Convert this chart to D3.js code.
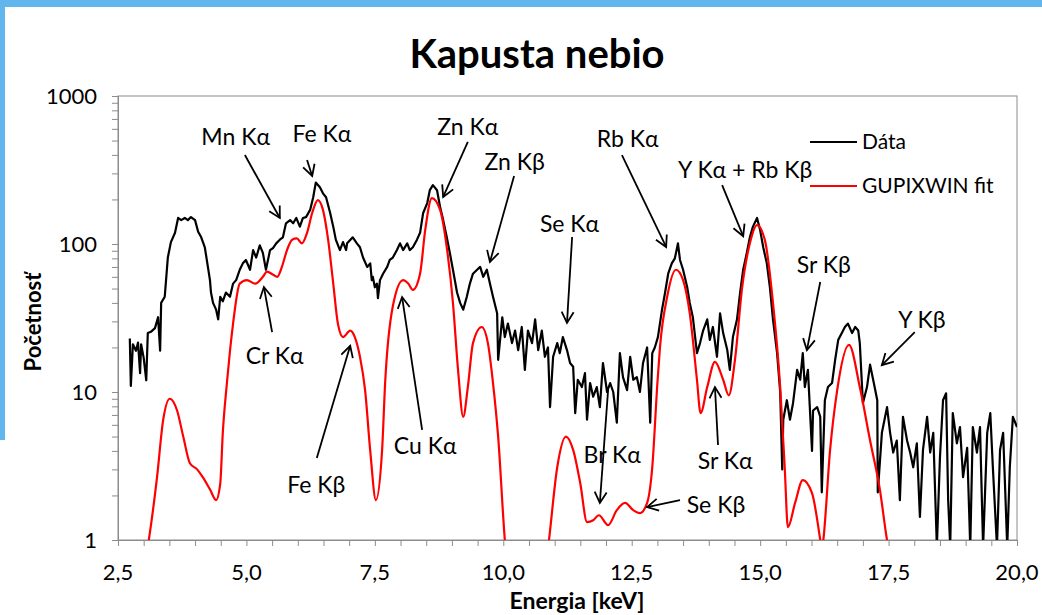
<!DOCTYPE html>
<html>
<head>
<meta charset="utf-8">
<script src="https://cdn.jsdelivr.net/npm/d3@7"></script>
<style>
    body { margin: 0; background: #fff; }
    svg { display: block; font-family: Lato, 'Open Sans', 'DejaVu Sans', sans-serif; }
</style>
</head>
<body>
<svg id="chart" width="1042" height="615"></svg>
<script>
// measured spectrum [keV, counts]
const measured = [
    [2.73,23],[2.75,11],[2.79,21],[2.85,19],[2.89,21.6],[2.93,13.4],[2.95,21],[3.00,17],[3.05,12],[3.08,25],
    [3.14,25.5],[3.22,27],[3.28,32],[3.32,19],[3.34,40],[3.41,44],[3.47,81],[3.53,103],[3.61,119],[3.67,150],
    [3.73,145],[3.80,150],[3.86,145],[3.92,152],[4.00,145],[4.06,121],[4.12,111],[4.19,95],[4.25,70],[4.29,57],
    [4.31,47],[4.35,40],[4.41,36],[4.45,31],[4.49,44],[4.54,41],[4.60,47],[4.68,44],[4.74,54],[4.80,57],
    [4.87,67],[4.93,74],[4.99,78],[5.07,67],[5.13,91],[5.19,81],[5.26,98],[5.32,87],[5.38,67],[5.46,91],
    [5.52,94],[5.58,101],[5.65,107],[5.71,111],[5.77,138],[5.85,145],[5.91,138],[5.97,150],[6.04,131],[6.10,150],
    [6.16,152],[6.24,170],[6.30,207],[6.35,260],[6.43,242],[6.49,220],[6.55,207],[6.63,162],[6.69,131],[6.74,107],
    [6.82,91],[6.88,103],[6.94,91],[6.96,101],[7.07,111],[7.15,101],[7.21,95],[7.27,81],[7.35,70],[7.41,74],
    [7.44,57],[7.46,60],[7.50,51],[7.54,54],[7.56,43],[7.60,57],[7.66,63],[7.74,70],[7.79,78],[7.85,81],
    [7.93,91],[7.99,101],[8.05,91],[8.13,101],[8.18,91],[8.24,95],[8.32,107],[8.38,119],[8.44,162],[8.52,189],
    [8.57,231],[8.63,250],[8.71,231],[8.77,178],[8.83,145],[8.90,111],[8.96,87],[9.02,67],[9.10,47],[9.16,40],
    [9.22,36],[9.29,44],[9.35,54],[9.41,63],[9.49,67],[9.55,70],[9.61,60],[9.68,67],[9.74,54],[9.80,44],
    [9.88,34],[9.90,16.5],[9.98,32],[10.03,23.5],[10.09,29],[10.17,21.4],[10.23,26],[10.29,19.2],[10.36,27.5],[10.42,14.1],
    [10.48,26],[10.56,21.4],[10.62,31],[10.68,19.2],[10.75,26],[10.81,17.3],[10.87,20],[10.91,7.9],[10.97,17.3],[11.05,21.4],
    [11.10,18.3],[11.16,23.5],[11.24,19.2],[11.30,15.7],[11.36,14.8],[11.40,7.2],[11.45,12.1],[11.53,10.8],[11.59,13.4],[11.63,6.5],
    [11.69,11.5],[11.75,9.3],[11.82,10.8],[11.88,7.9],[11.94,15.7],[12.02,10],[12.08,11.5],[12.14,10],[12.21,6.2],[12.27,18.3],
    [12.33,12.6],[12.41,10.3],[12.47,17.3],[12.53,12.1],[12.60,12.6],[12.66,10],[12.72,15.7],[12.80,20],[12.86,6.2],[12.90,18.3],
    [12.95,20],[13.01,23.5],[13.09,36],[13.15,47],[13.21,63],[13.28,74],[13.34,80],[13.40,101],[13.44,78],[13.50,67],
    [13.58,51],[13.63,40],[13.69,32],[13.77,18.3],[13.83,21.4],[13.89,26],[13.97,31],[14.02,22.5],[14.08,27.5],[14.16,17.3],
    [14.22,34],[14.28,25],[14.36,19.2],[14.41,14.1],[14.47,23.5],[14.55,31],[14.61,47],[14.67,67],[14.74,87],[14.80,111],
    [14.86,131],[14.94,150],[15.00,124],[15.06,95],[15.13,74],[15.19,51],[15.25,31],[15.33,18.3],[15.39,10],[15.43,3],
    [15.45,6.5],[15.52,8.8],[15.58,6.5],[15.64,8.4],[15.72,14.1],[15.78,12.1],[15.83,18.3],[15.87,10.8],[15.93,14.1],[16.01,4],
    [16.03,7.5],[16.11,7.9],[16.17,6.8],[16.20,2.1],[16.26,8.8],[16.32,10.8],[16.40,11.5],[16.46,16.5],[16.52,22.5],[16.59,25],
    [16.65,27.5],[16.71,29],[16.79,25],[16.85,27.5],[16.91,26],[16.94,21.4],[17.00,8.4],[17.08,10.8],[17.14,15.3],[17.20,12.1],
    [17.28,8.8],[17.29,2.1],[17.37,5.3],[17.47,7.9],[17.53,5.3],[17.59,3.9],[17.66,4.7],[17.72,1.86],[17.78,6.8],[17.86,4.7],
    [17.92,3.9],[17.98,3.1],[18.05,4.5],[18.11,1.43],[18.17,4.06],[18.25,6.8],[18.31,3.9],[18.37,5.3],[18.44,0.9],[18.50,3.6],
    [18.56,8.8],[18.62,9.8],[18.66,1.86],[18.70,0.9],[18.75,7.2],[18.83,4.5],[18.89,5.8],[18.95,2.66],[19.03,4.2],[19.09,0.9],
    [19.14,5.8],[19.22,3.9],[19.28,5.8],[19.34,0.9],[19.42,5.3],[19.48,7.2],[19.53,3.1],[19.61,0.9],[19.67,4.06],[19.73,5.3],
    [19.81,0.9],[19.86,3.1],[19.92,6.8],[20.00,5.8]
];

// GUPIXWIN fit [keV, counts]
const fitted = [
    [2.95,0.5],[3.10,1],[3.26,2.66],[3.38,6.5],[3.51,9],[3.65,7.5],[3.77,5],[3.90,3.3],[4.04,3],[4.15,2.66],
    [4.29,2.2],[4.41,1.86],[4.49,2.4],[4.54,5.3],[4.62,11.5],[4.68,19],[4.74,29],[4.87,54],[5.01,57],[5.17,54],
    [5.32,60],[5.40,65],[5.52,62],[5.60,60],[5.69,70],[5.79,91],[5.89,107],[5.98,109],[6.08,101],[6.18,119],
    [6.28,162],[6.39,198],[6.49,170],[6.59,107],[6.69,54],[6.78,29],[6.88,23.5],[7.02,26],[7.11,23.5],[7.21,17.3],
    [7.31,10.3],[7.41,4],[7.52,1.86],[7.64,4],[7.70,11.5],[7.85,38],[8.05,57],[8.15,54],[8.24,49],[8.38,63],
    [8.48,124],[8.61,204],[8.77,170],[8.90,95],[9.02,40],[9.12,14],[9.22,6.8],[9.31,10.8],[9.41,21.4],[9.58,27.5],
    [9.70,21.4],[9.80,11.5],[9.90,5],[10.03,1],[10.15,0.4],[10.75,0.4],[10.89,1],[11.05,3.1],[11.22,5],[11.36,4.06],
    [11.50,2.4],[11.63,1.32],[11.75,1.36],[11.86,1.47],[12.04,1.26],[12.21,1.59],[12.37,1.78],[12.53,1.59],[12.66,1.52],[12.80,1.78],
    [12.90,3.1],[13.00,11.5],[13.05,20],[13.19,44],[13.36,67],[13.50,57],[13.63,34],[13.77,12.1],[13.84,7.2],[13.97,10.8],
    [14.12,16],[14.28,12.1],[14.39,9.5],[14.51,16.5],[14.65,51],[14.80,101],[14.94,134],[15.09,107],[15.25,40],[15.39,10.8],
    [15.48,3],[15.54,1.22],[15.68,1.78],[15.83,2.54],[16.01,2.07],[16.17,1],[16.20,0.85],[16.23,1],[16.36,4],[16.50,10.3],
    [16.73,20.8],[16.94,10.8],[17.14,4.7],[17.33,2.2],[17.47,1],[17.60,0.6]
];

const xTicks = [2.5, 5, 7.5, 10, 12.5, 15, 17.5, 20];
const yTicks = [1, 10, 100, 1000];
const seriesNames = ['Dáta', 'GUPIXWIN fit'];

// peak labels: text position and arrow tail -> head, all in [keV, counts]
const peakLabels = ['Mn Kα', 'Fe Kα', 'Cr Kα', 'Fe Kβ', 'Cu Kα', 'Zn Kα', 'Zn Kβ', 'Se Kα',
    'Rb Kα', 'Y Kα + Rb Kβ', 'Sr Kβ', 'Y Kβ', 'Sr Kα', 'Br Kα', 'Se Kβ'];
const labelAt = [[4.79,467],[6.47,489],[5.55,15.5],[6.36,2.08],[8.48,3.81],[9.31,545],[10.22,316],[11.29,120.5],
    [12.42,452],[14.71,279],[16.24,63.7],[18.15,27.1],[14.32,3.02],[12.12,3.31],[14.14,1.52]];
const arrowFrom = [[4.97,399],[6.18,370],[5.50,25.4],[6.37,3.58],[8.42,5.54],[9.31,489],[10.21,288],[11.34,111.5],
    [12.31,399],[14.26,250],[16.17,55.4],[18.01,25.4],[14.18,4.38],[12.04,10.3],[13.44,1.86]];
const arrowTo = [[5.65,150],[6.28,288],[5.34,51.2],[7.02,20.5],[8.03,43.8],[8.83,208],[9.74,75.5],[11.24,29.3],
    [13.17,95.5],[14.67,113],[15.91,19.2],[17.37,15.2],[14.12,10.8],[11.88,1.78],[12.80,1.67]];

const margin = { left: 118, top: 96, right: 25, bottom: 75 };
const width = 1042 - margin.left - margin.right;
const height = 615 - margin.top - margin.bottom;

const svg = d3.select('#chart');

// blue slide frame
svg.append('rect').attr('x', 0).attr('y', 0).attr('width', 1042).attr('height', 7).attr('fill', '#62b6ee');
svg.append('rect').attr('x', 0).attr('y', 0).attr('width', 5).attr('height', 440).attr('fill', '#62b6ee');

svg.append('text')
    .attr('x', 537).attr('y', 68)
    .attr('text-anchor', 'middle')
    .style('font-size', '40px').style('font-weight', 'bold')
    .text('Kapusta nebio');

const defs = svg.append('defs');
defs.append('clipPath').attr('id', 'plotClip')
    .append('rect').attr('width', width).attr('height', height);
defs.append('marker')
    .attr('id', 'arrowHead')
    .attr('viewBox', '0 0 14 14')
    .attr('refX', 12).attr('refY', 7)
    .attr('markerWidth', 14).attr('markerHeight', 14)
    .attr('markerUnits', 'userSpaceOnUse')
    .attr('orient', 'auto')
    .append('path')
    .attr('d', 'M1,1 L12,7 L1,13')
    .attr('fill', 'none').attr('stroke', '#000').attr('stroke-width', 1.8);

const g = svg.append('g').attr('transform', 'translate(' + margin.left + ',' + margin.top + ')');

const x = d3.scaleLinear().domain([2.5, 20]).range([0, width]);
const y = d3.scaleLog().domain([1, 1000]).range([height, 0]);

// frame
g.append('rect').attr('width', width).attr('height', height)
    .attr('fill', 'none').attr('stroke', '#8c8c8c').attr('stroke-width', 1);

// x axis: ticks every 0.5, labels every 2.5
const xAxis = g.append('g').attr('transform', 'translate(0,' + height + ')')
    .call(d3.axisBottom(x).tickValues(d3.range(2.5, 20.01, 0.5)).tickSize(6).tickFormat(''));
xAxis.selectAll('line, path').attr('stroke', '#8c8c8c');
g.append('g').selectAll('text').data(xTicks).enter().append('text')
    .attr('x', d => x(d)).attr('y', height + 40)
    .attr('text-anchor', 'middle')
    .style('font-size', '22px')
    .text(d => d.toFixed(1).replace('.', ','));

// y axis: log ticks 1..9 per decade
const yMinor = [];
[1, 10, 100].forEach(dec => d3.range(1, 10).forEach(k => yMinor.push(dec * k)));
yMinor.push(1000);
const yAxis = g.append('g')
    .call(d3.axisLeft(y).tickValues(yMinor).tickSize(6).tickFormat(''));
yAxis.selectAll('line, path').attr('stroke', '#8c8c8c');
g.append('g').selectAll('text').data(yTicks).enter().append('text')
    .attr('x', -21).attr('y', d => y(d)).attr('dy', '0.36em')
    .attr('text-anchor', 'end')
    .style('font-size', '22px')
    .text(d => d);

svg.append('text')
    .attr('transform', 'translate(41,' + (margin.top + height * 0.5 + 4) + ') rotate(-90)')
    .attr('text-anchor', 'middle')
    .style('font-size', '22px').style('font-weight', 'bold')
    .text('Početnosť');
svg.append('text')
    .attr('x', 577).attr('y', 609)
    .attr('text-anchor', 'middle')
    .style('font-size', '23px').style('font-weight', 'bold')
    .text('Energia [keV]');

// series
const line = d3.line().x(d => x(d[0])).y(d => y(d[1]));
const plot = g.append('g').attr('clip-path', 'url(#plotClip)');
plot.append('path').datum(measured)
    .attr('d', line)
    .attr('fill', 'none').attr('stroke', '#000').attr('stroke-width', 2.2).attr('stroke-linejoin', 'round');
plot.append('path').datum(fitted)
    .attr('d', line.curve(d3.curveMonotoneX))
    .attr('fill', 'none').attr('stroke', '#ff0000').attr('stroke-width', 2.2);

// annotations
const notes = g.append('g');
peakLabels.forEach(function (label, i) {
    notes.append('line')
        .attr('x1', x(arrowFrom[i][0])).attr('y1', y(arrowFrom[i][1]))
        .attr('x2', x(arrowTo[i][0])).attr('y2', y(arrowTo[i][1]))
        .attr('stroke', '#000').attr('stroke-width', 1.8)
        .attr('marker-end', 'url(#arrowHead)');
    notes.append('text')
        .attr('x', x(labelAt[i][0])).attr('y', y(labelAt[i][1]))
        .attr('text-anchor', 'middle')
        .style('font-size', '23px')
        .text(label);
});

// legend
const legend = svg.append('g');
seriesNames.forEach(function (name, i) {
    const ly = 142 + i * 44;
    legend.append('line')
        .attr('x1', 810).attr('x2', 857).attr('y1', ly).attr('y2', ly)
        .attr('stroke', i === 0 ? '#000' : '#ff0000').attr('stroke-width', 2.2);
    legend.append('text')
        .attr('x', 862).attr('y', ly).attr('dy', '0.35em')
        .style('font-size', '21px')
        .text(name);
});
</script>
</body>
</html>
